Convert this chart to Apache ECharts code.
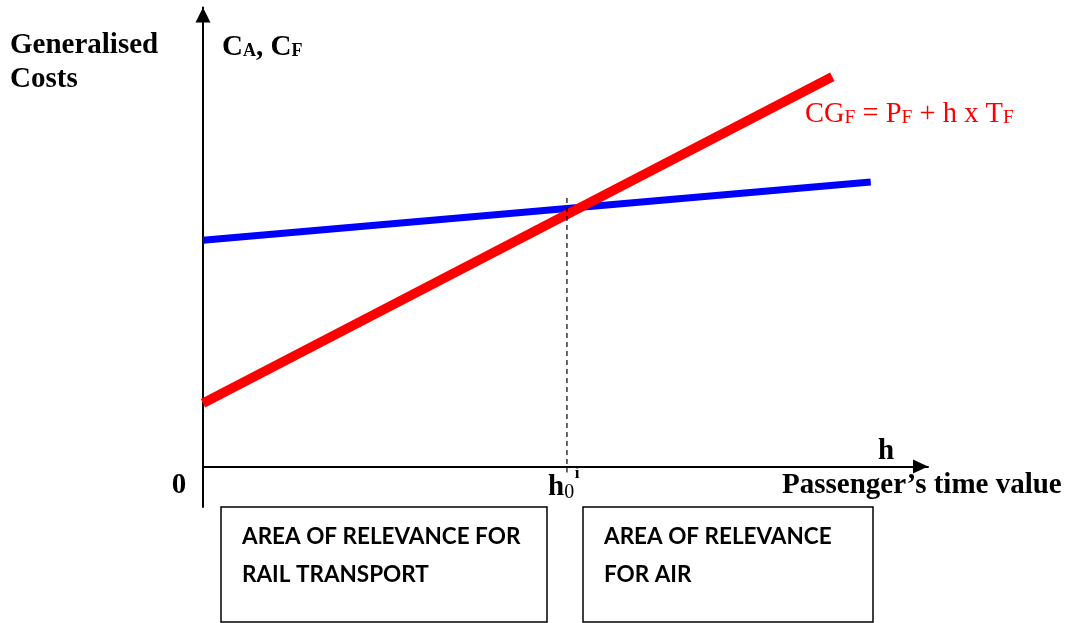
<!DOCTYPE html>
<html>
<head>
<meta charset="utf-8">
<script src="https://cdn.jsdelivr.net/npm/echarts@6/dist/echarts.min.js"></script>
<style>
html,body{margin:0;padding:0;background:#fff;}
#chart{width:1071px;height:623px;}
</style>
</head>
<body>
<div id="chart"></div>
<script>
// Passenger's time value h (abstract units) and generalised cost
const airH = [0, 92.1];
const airCost = [49.3, 62.0];
const railH = [0, 86.8];
const railCost = [13.8, 84.9];
const thresholdH = [50.2, 50.2];
const thresholdCost = [58.5, -1.3];

const serif = "'Liberation Serif','Times New Roman',serif";
const chart = echarts.init(document.getElementById('chart'));

function pairs(xs, ys) { return xs.map((x, i) => [x, ys[i]]); }
function txt(x, y, text, font, color, align) {
  return { type: 'text', x: x, y: y, style: { text: text, font: font, fill: color || '#000',
    align: align || 'left', verticalAlign: 'middle', textAlign: align || 'left', textVerticalAlign: 'middle' } };
}
function rtxt(x, y, text, rich) {
  return { type: 'text', x: x, y: y, style: { text: text, align: 'left', verticalAlign: 'middle',
    textAlign: 'left', textVerticalAlign: 'middle', rich: rich } };
}

chart.setOption({
  animation: false,
  backgroundColor: '#fff',
  grid: { left: 203, top: 7.5, width: 725, height: 499.5 },
  xAxis: {
    type: 'value', min: 0, max: 100,
    axisLine: { show: true, onZero: true, symbol: ['none', 'triangle'], symbolSize: [14, 15],
      symbolOffset: [0, -7.5], lineStyle: { color: '#000', width: 2 } },
    axisTick: { show: false }, axisLabel: { show: false }, splitLine: { show: false }
  },
  yAxis: {
    type: 'value', min: -8.82, max: 100,
    axisLine: { show: true, onZero: false, symbol: ['none', 'triangle'], symbolSize: [15, 15],
      symbolOffset: [0, -7.5], lineStyle: { color: '#000', width: 2 } },
    axisTick: { show: false }, axisLabel: { show: false }, splitLine: { show: false }
  },
  series: [
    { type: 'line', data: pairs(airH, airCost), showSymbol: false, silent: true,
      lineStyle: { color: '#0000ff', width: 7 } },
    { type: 'line', data: pairs(railH, railCost), showSymbol: false, silent: true,
      lineStyle: { color: '#ff0000', width: 9.5 } },
    { type: 'line', data: pairs(thresholdH, thresholdCost), showSymbol: false, silent: true,
      lineStyle: { color: '#000', width: 1.2, type: [5, 4] } }
  ],
  graphic: [
    txt(10, 46, 'Generalised', 'bold 29px ' + serif),
    txt(10, 80, 'Costs', 'bold 29px ' + serif),
    rtxt(222, 48, '{b|C}{s|A}{b|, C}{s|F}', {
      b: { font: 'bold 29px ' + serif, fill: '#000', color: '#000' },
      s: { font: 'bold 18px ' + serif, fill: '#000', color: '#000', padding: [6, 0, 0, 0] } }),
    rtxt(805, 115, '{b|CG}{s|F}{b| = P}{s|F}{b| + h x T}{s|F}', {
      b: { font: '28.5px ' + serif, fill: '#ff0000', color: '#ff0000' },
      s: { font: '19.5px ' + serif, fill: '#ff0000', color: '#ff0000', padding: [6, 0, 0, 0] } }),
    txt(886, 452, 'h', 'bold 29px ' + serif, '#000', 'center'),
    txt(782, 486, 'Passenger\u2019s time value', 'bold 29px ' + serif),
    txt(179, 486, '0', 'bold 29px ' + serif, '#000', 'center'),
    rtxt(548, 488, '{b|h}{s|0}', {
      b: { font: 'bold 29px ' + serif, fill: '#000', color: '#000' },
      s: { font: '20px ' + serif, fill: '#000', color: '#000', padding: [10, 0, 0, 0] } }),
    txt(577, 474, 'i', 'bold 17px ' + serif, '#000', 'center'),
    { type: 'rect', shape: { x: 221, y: 507, width: 326, height: 115 }, style: { fill: 'none', stroke: '#000', lineWidth: 1.5 } },
    { type: 'rect', shape: { x: 583, y: 507, width: 290, height: 115 }, style: { fill: 'none', stroke: '#000', lineWidth: 1.5 } },
    txt(242, 537, 'AREA OF RELEVANCE FOR', 'bold 22.5px Lato'),
    txt(242, 575, 'RAIL TRANSPORT', 'bold 22.5px Lato'),
    txt(604, 537, 'AREA OF RELEVANCE', 'bold 22.5px Lato'),
    txt(604, 575, 'FOR AIR', 'bold 22.5px Lato')
  ]
});
</script>
</body>
</html>
